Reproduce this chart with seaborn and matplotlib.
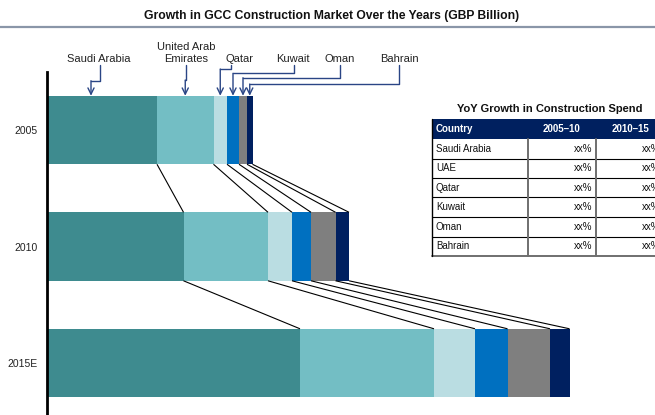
import numpy as np
import pandas as pd
import matplotlib
matplotlib.use("Agg")
import matplotlib.pyplot as plt
import seaborn as sns
from matplotlib.lines import Line2D
from matplotlib.patches import Rectangle

# ---- data (GBP billion) ----
years = ["2005", "2010", "2015E"]
countries = ["Saudi Arabia", "United Arab\nEmirates", "Qatar", "Kuwait", "Oman", "Bahrain"]
saudi = [22.0, 27.3, 50.6]
uae = [11.3, 16.9, 26.8]
qatar = [2.7, 4.8, 8.2]
kuwait = [2.4, 3.8, 6.5]
oman = [1.6, 4.9, 8.5]
bahrain = [1.1, 2.7, 3.9]

table_title = "YoY Growth in Construction Spend"
table_header = ["Country", "2005\u201310", "2010\u201315"]
table_countries = ["Saudi Arabia", "UAE", "Qatar", "Kuwait", "Oman", "Bahrain"]
growth_05_10 = ["xx%", "xx%", "xx%", "xx%", "xx%", "xx%"]
growth_10_15 = ["xx%", "xx%", "xx%", "xx%", "xx%", "xx%"]

# ---- styling ----
colors = ["#3e8b8f", "#73bec4", "#badde2", "#0070c0", "#7f7f7f", "#002060"]
navy = "#2a4585"
W, H = 655, 415

sns.set_style("white")
plt.rcParams["font.family"] = ["Liberation Sans", "DejaVu Sans"]

fig = plt.figure(figsize=(W / 100, H / 100), dpi=100)
ax = fig.add_axes([47 / W, 0, (W - 47) / W, (H - 72) / H])


def fpx(x, y):
    """figure-pixel (origin top-left) -> figure fraction"""
    return x / W, 1 - y / H


series = [saudi, uae, qatar, kuwait, oman, bahrain]
cum = np.cumsum(np.array(series), axis=0)
df = pd.DataFrame({"year": years})
for i, name in enumerate(countries):
    df[f"cum{i}"] = cum[i]

bar_h = 0.588
# stacked bars: draw cumulative totals from the outermost segment inward
for i in reversed(range(len(series))):
    sns.barplot(data=df, x=f"cum{i}", y="year", orient="h", color=colors[i],
                saturation=1, width=bar_h, edgecolor="none", linewidth=0, ax=ax)

ax.set_xlim(0, 121.6)
ax.set_ylim(2.446, -0.498)
ax.set_xlabel("")
ax.set_ylabel("")
ax.set_xticks([])
for s in ["top", "right", "bottom"]:
    ax.spines[s].set_visible(False)
ax.spines["left"].set_color("black")
ax.spines["left"].set_linewidth(2)
ax.tick_params(axis="y", length=0, pad=6.5, labelsize=7.5, labelcolor="#222222")

# connector lines between consecutive years
for j in range(len(years) - 1):
    for i in range(len(series)):
        ax.plot([cum[i][j], cum[i][j + 1]], [j + bar_h / 2, j + 1 - bar_h / 2],
                color="black", lw=0.8, solid_capstyle="butt")

# country labels with elbow arrows onto the first bar
label_pos = [(99, 59), (186, 53.3), (239, 59), (293, 59), (340, 59), (399, 59)]
src_x = [100, 186, 231, 294, 340, 399]
elbow_y = [80.7, 80.0, 69.0, 73.3, 77.7, 84.0]
tip_frac = [0.4, 0.5, 0.5, 0.5, 0.5, 0.5]

fig.canvas.draw()
to_fig = fig.transFigure.inverted()
starts = np.vstack([np.zeros(3), cum[:-1]])
for i, name in enumerate(countries):
    fig.text(*fpx(*label_pos[i]), name, ha="center", va="center",
             fontsize=8, color="#222222", linespacing=1.2)
    xd = starts[i][0] + tip_frac[i] * series[i][0]
    tx, ty = to_fig.transform(ax.transData.transform((xd, -bar_h / 2)))
    tip_px = tx * W
    sx, sy = fpx(src_x[i], 65)
    ex, ey = fpx(tip_px, elbow_y[i])
    fig.add_artist(Line2D([sx, sx, ex], [sy, ey, ey], transform=fig.transFigure,
                          color=navy, lw=1.0))
    ax.annotate("", xy=(tx, ty), xytext=(ex, ey), xycoords="figure fraction",
                textcoords="figure fraction",
                arrowprops=dict(arrowstyle="->,head_length=0.45,head_width=0.22",
                                color=navy, lw=1.0, shrinkA=0, shrinkB=0))

# title and rule
fig.text(*fpx(332, 15.5), "Growth in GCC Construction Market Over the Years (GBP Billion)",
         ha="center", va="center", fontsize=8.7, fontweight="bold", color="#111111")
fig.add_artist(Line2D([0, 1], [1 - 27 / H] * 2, transform=fig.transFigure,
                      color="#8a96a8", lw=1.6))

# growth table
col_x = [432, 527.5, 596, 664]
head_top, head_bot = 119, 139
row_h = 19.5
n_rows = len(table_countries)
tab_bot = head_bot + n_rows * row_h

fig.text(*fpx(549.5, 109), table_title, ha="center", va="center",
         fontsize=8, fontweight="bold", color="#111111")
x0, y0 = fpx(col_x[0], head_bot)
fig.add_artist(Rectangle((x0, y0), (col_x[-1] - col_x[0]) / W, (head_bot - head_top) / H,
                         transform=fig.transFigure, facecolor="#00205f", edgecolor="none"))
hy = (head_top + head_bot) / 2
fig.text(*fpx(col_x[0] + 4, hy), table_header[0], ha="left", va="center",
         fontsize=7, fontweight="bold", color="white")
for c in (1, 2):
    fig.text(*fpx((col_x[c] + col_x[c + 1]) / 2, hy), table_header[c], ha="center",
             va="center", fontsize=7, fontweight="bold", color="white")

for r in range(n_rows):
    cy = head_bot + (r + 0.5) * row_h
    fig.text(*fpx(col_x[0] + 4, cy), table_countries[r], ha="left", va="center",
             fontsize=7, color="#111111")
    fig.text(*fpx(col_x[2] - 4, cy), growth_05_10[r], ha="right", va="center",
             fontsize=7, color="#111111")
    fig.text(*fpx(col_x[3] - 4, cy), growth_10_15[r], ha="right", va="center",
             fontsize=7, color="#111111")
    yb = head_bot + (r + 1) * row_h
    last = r == n_rows - 1
    fig.add_artist(Line2D([col_x[0] / W, col_x[-1] / W], [1 - yb / H] * 2,
                          transform=fig.transFigure,
                          color="#6f6f6f" if last else "black", lw=1.4 if last else 0.8))

fig.add_artist(Line2D([col_x[0] / W] * 2, [1 - head_top / H, 1 - tab_bot / H],
                      transform=fig.transFigure, color="black", lw=1.0))
for c in (1, 2):
    fig.add_artist(Line2D([col_x[c] / W] * 2, [1 - head_bot / H, 1 - tab_bot / H],
                          transform=fig.transFigure, color="#6f6f6f", lw=1.4))

fig.savefig("out.png", dpi=100)
